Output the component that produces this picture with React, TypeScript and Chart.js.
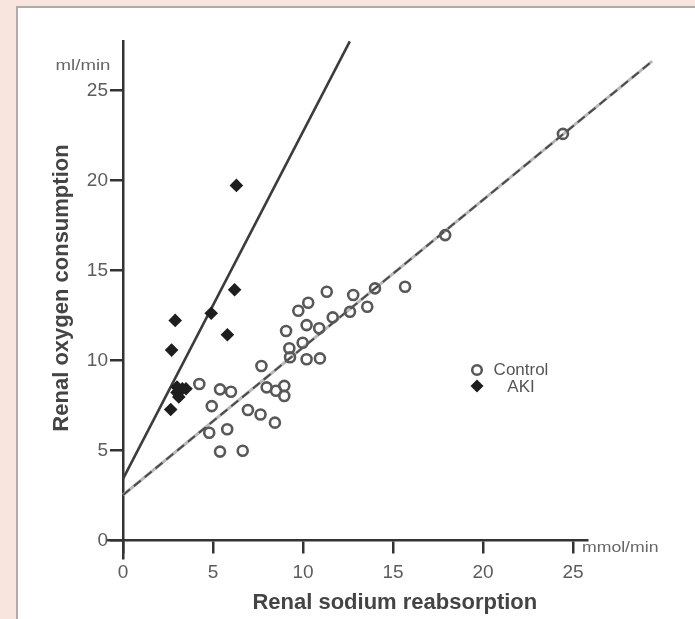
import React, { useEffect, useRef } from "react";
import { Chart, registerables } from "chart.js";

Chart.register(...registerables);

// ---- data ----
const controlX = [4.24, 5.39, 6.0, 4.93, 6.94, 7.64, 8.44, 4.79, 5.79, 5.39, 6.65, 7.69, 7.98, 8.5, 8.96, 8.96, 9.28, 10.2, 10.94, 9.24, 9.98, 9.06, 10.2, 10.9, 11.65, 9.74, 10.29, 11.32, 12.61, 12.79, 13.57, 14.0, 15.67, 17.9, 24.44];
const controlY = [8.67, 8.37, 8.24, 7.44, 7.22, 6.97, 6.52, 5.96, 6.15, 4.91, 4.96, 9.67, 8.48, 8.29, 8.56, 8.0, 10.15, 10.04, 10.09, 10.65, 10.96, 11.61, 11.94, 11.76, 12.37, 12.74, 13.18, 13.79, 12.68, 13.61, 12.96, 13.98, 14.07, 16.94, 22.56];
const akiX = [6.3, 6.2, 4.9, 5.8, 2.9, 2.7, 3.0, 3.3, 3.5, 3.0, 3.1, 2.65];
const akiY = [19.7, 13.9, 12.6, 11.4, 12.2, 10.55, 8.5, 8.4, 8.4, 8.2, 7.95, 7.25];
const controlFitX = [0, 29.4];
const controlFitY = [2.5, 26.6];
const akiFitX = [0, 12.6];
const akiFitY = [3.4, 27.7];
const xTicks = [0, 5, 10, 15, 20, 25];
const yTicks = [0, 5, 10, 15, 20, 25];
const xTitle = "Renal sodium reabsorption";
const yTitle = "Renal oxygen consumption";
const xUnit = "mmol/min";
const yUnit = "ml/min";
const legendLabels = ["Control", "AKI"];

const FONT = "'Liberation Sans', Arial, Helvetica, sans-serif";
const AXIS = "#333333";
const TICKTXT = "#5c5c5c";

function pts(xs: number[], ys: number[]) {
  return xs.map((x, i) => ({ x, y: ys[i] }));
}

const textPlugin = {
  id: "textPlugin",
  afterDraw(chart: any) {
    const ctx = chart.ctx as CanvasRenderingContext2D;
    const xs = chart.scales.x;
    const ys = chart.scales.y;
    const x0 = xs.getPixelForValue(0);
    ctx.save();
    // y tick labels
    ctx.fillStyle = TICKTXT;
    ctx.font = `19px ${FONT}`;
    ctx.textAlign = "right";
    ctx.textBaseline = "middle";
    yTicks.forEach((v) => ctx.fillText(String(v), x0 - 15, ys.getPixelForValue(v) + 1));
    // y title
    ctx.fillStyle = "#444";
    ctx.font = `bold 22px ${FONT}`;
    ctx.textAlign = "center";
    ctx.textBaseline = "middle";
    ctx.save();
    ctx.translate(62, ys.getPixelForValue(14));
    ctx.rotate(-Math.PI / 2);
    ctx.fillText(yTitle, 0, 0);
    ctx.restore();
    // x title
    ctx.fillText(xTitle, xs.getPixelForValue(15.1), 603);
    // units (horizontally wide lettering as in the reference)
    ctx.fillStyle = "#666";
    ctx.font = `14px ${FONT}`;
    ctx.save();
    ctx.translate(83, 66);
    ctx.scale(1.33, 1);
    ctx.textAlign = "center";
    ctx.fillText(yUnit, 0, 0);
    ctx.restore();
    ctx.save();
    ctx.translate(xs.getPixelForValue(25) + 9, 548);
    ctx.scale(1.26, 1);
    ctx.textAlign = "left";
    ctx.fillText(xUnit, 0, 0);
    ctx.restore();
    // legend
    const lx = 477;
    ctx.strokeStyle = "#555";
    ctx.lineWidth = 2.5;
    ctx.beginPath();
    ctx.arc(lx, 370, 4.8, 0, Math.PI * 2);
    ctx.stroke();
    ctx.fillStyle = "#1e1e1e";
    ctx.beginPath();
    ctx.moveTo(lx, 386 - 6.5);
    ctx.lineTo(lx + 6.5, 386);
    ctx.lineTo(lx, 386 + 6.5);
    ctx.lineTo(lx - 6.5, 386);
    ctx.closePath();
    ctx.fill();
    ctx.fillStyle = "#555";
    ctx.font = `17px ${FONT}`;
    ctx.textAlign = "center";
    ctx.fillText(legendLabels[0], 521, 370);
    ctx.fillText(legendLabels[1], 521, 387);
    ctx.restore();
  },
};

export default function App() {
  const ref = useRef<HTMLCanvasElement | null>(null);
  useEffect(() => {
    if (!ref.current) return;
    const chart = new Chart(ref.current, {
      type: "scatter",
      data: {
        datasets: [
          {
            label: legendLabels[0],
            data: pts(controlX, controlY),
            pointStyle: "circle",
            pointRadius: 5,
            pointBorderWidth: 2.6,
            borderColor: "#585858",
            backgroundColor: "rgba(255,255,255,0)",
            order: 1,
          },
          {
            label: legendLabels[1],
            data: pts(akiX, akiY),
            pointStyle: "rectRot",
            pointRadius: 6.8,
            pointBorderWidth: 0,
            borderColor: "#1e1e1e",
            backgroundColor: "#1e1e1e",
            order: 0,
          },
          {
            label: "AKI fit",
            data: pts(akiFitX, akiFitY),
            showLine: true,
            pointRadius: 0,
            borderColor: "#3c3c3c",
            borderWidth: 2.6,
            order: 3,
            clip: false as any,
          },
          {
            label: "Control fit base",
            data: pts(controlFitX, controlFitY),
            showLine: true,
            pointRadius: 0,
            borderColor: "#b8b8b8",
            borderWidth: 3,
            order: 4,
            clip: false as any,
          },
          {
            label: "Control fit",
            data: pts(controlFitX, controlFitY),
            showLine: true,
            pointRadius: 0,
            borderColor: "#4a4a4a",
            borderWidth: 2,
            borderDash: [9, 5],
            order: 3,
            clip: false as any,
          },
        ] as any,
      },
      options: {
        animation: false,
        responsive: false,
        devicePixelRatio: 1,
        layout: { padding: { left: 108.6, right: 107.6, top: 41.4, bottom: 61 } },
        plugins: { legend: { display: false }, tooltip: { enabled: false } },
        scales: {
          x: {
            type: "linear",
            min: -0.8,
            max: 25.8,
            position: { y: 0 } as any,
            afterBuildTicks: (s: any) => {
              s.ticks = xTicks.map((v) => ({ value: v }));
            },
            grid: { drawOnChartArea: false, drawTicks: true, tickLength: 12, color: AXIS, lineWidth: 2.5 },
            border: { display: true, color: AXIS, width: 2.5 },
            ticks: { color: TICKTXT, font: { family: FONT, size: 19 }, padding: 9, maxRotation: 0 },
          },
          y: {
            type: "linear",
            min: -1,
            max: 27.7,
            position: { x: 0 } as any,
            afterBuildTicks: (s: any) => {
              s.ticks = yTicks.map((v) => ({ value: v }));
            },
            grid: { drawOnChartArea: false, drawTicks: true, tickLength: 12, color: AXIS, lineWidth: 2.5 },
            border: { display: true, color: AXIS, width: 2.5 },
            ticks: { display: false },
          },
        },
      },
      plugins: [textPlugin],
    });
    return () => chart.destroy();
  }, []);

  return (
    <div style={{ position: "fixed", left: 0, top: 0, width: 695, height: 619, background: "#f8e5dd", overflow: "hidden" }}>
      <div
        style={{
          position: "absolute",
          left: 16,
          top: 6,
          right: 0,
          bottom: 0,
          background: "#ffffff",
          borderLeft: "2px solid #b3aaa8",
          borderTop: "2px solid #b3aaa8",
        }}
      />
      <canvas ref={ref} width={695} height={619} style={{ position: "absolute", left: 0, top: 0 }} />
    </div>
  );
}
